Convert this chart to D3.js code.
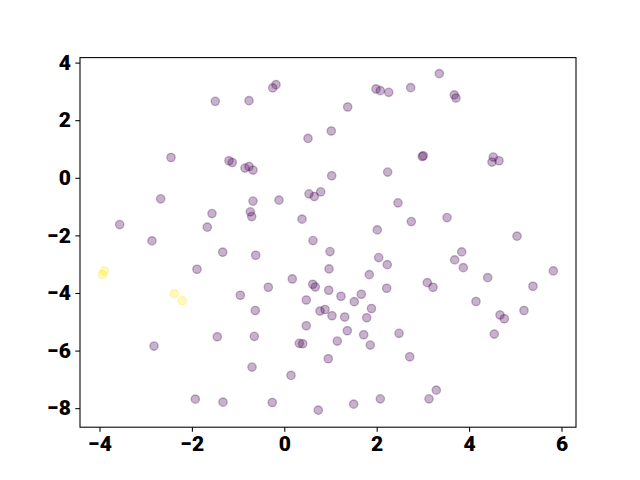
<!DOCTYPE html>
<html>
<head>
<meta charset="utf-8">
<script src="https://cdn.jsdelivr.net/npm/d3@7"></script>
<style>
  html, body { margin: 0; padding: 0; background: #fff; }
  svg { display: block; }
  .tick text { font-family: Roboto, "Liberation Sans", sans-serif; font-weight: 900; font-size: 21px; fill: #000; }
</style>
</head>
<body>
<div id="chart"></div>
<script>
// Cluster 0 (purple) points
const purpleX = [-1.494,-0.764,-2.452,-1.197,-1.126,-0.851,-0.764,-0.677,-0.251,-0.180,
  1.985,2.078,2.260,2.736,1.372,1.017,0.513,1.026,2.238,3.355,
  3.680,3.716,2.987,3.009,4.524,4.496,4.647,-2.675,-3.563,-2.864,
  -1.565,-1.667,-1.333,-1.890,-0.952,-0.677,-0.736,-0.706,-0.115,0.535,
  0.649,0.788,0.383,2.461,2.749,2.013,0.621,0.989,-0.619,2.043,
  2.229,0.968,1.840,0.173,-0.346,0.615,0.671,0.961,2.216,1.227,
  1.667,0.476,1.515,1.887,-0.628,0.773,0.881,3.522,5.037,3.840,
  3.688,3.874,4.403,5.823,3.095,3.219,5.383,4.149,5.188,-1.450,
  -2.820,-1.926,-1.327,1.032,1.307,1.784,0.476,-0.649,0.325,0.398,
  1.364,1.147,1.719,1.861,2.483,0.952,2.714,-0.699,0.145,-0.260,
  0.736,1.502,2.078,4.669,4.762,4.545,3.290,3.132];
const purpleY = [2.654,2.678,0.706,0.591,0.532,0.337,0.393,0.268,3.120,3.235,
  3.085,3.026,2.967,3.130,2.459,1.624,1.367,0.070,0.198,3.617,
  2.877,2.772,0.741,0.765,0.720,0.546,0.591,-0.730,-1.624,-2.191,
  -1.242,-1.715,-2.584,-3.176,-4.080,-0.810,-1.183,-1.346,-0.776,-0.557,
  -0.650,-0.487,-1.437,-0.870,-1.520,-1.809,-2.181,-2.563,-2.689,-2.772,
  -3.016,-3.165,-3.363,-3.513,-3.802,-3.697,-3.791,-3.906,-3.837,-4.115,
  -4.045,-4.243,-4.303,-4.539,-4.609,-4.626,-4.574,-1.381,-2.028,-2.574,
  -2.852,-3.120,-3.468,-3.235,-3.642,-3.802,-3.767,-4.296,-4.609,-5.520,
  -5.843,-7.687,-7.791,-4.790,-4.835,-4.859,-5.137,-5.506,-5.750,-5.763,
  -5.311,-5.670,-5.450,-5.809,-5.402,-6.285,-6.216,-6.574,-6.863,-7.802,
  -8.070,-7.861,-7.677,-4.765,-4.894,-5.426,-7.374,-7.677];
// Cluster 1 (yellow) points
const yellowX = [-3.896,-3.939,-2.381,-2.208];
const yellowY = [-3.235,-3.363,-4.024,-4.268];

const xTicks = [-4,-2,0,2,4,6];
const yTicks = [-8,-6,-4,-2,0,2,4];

const W = 640, H = 480;
const mLeft = 80, mRight = 576, mTop = 57.6, mBottom = 427.2;

const svg = d3.select("#chart").append("svg").attr("width", W).attr("height", H);

const x = d3.scaleLinear().domain([-4.422, 6.314]).range([mLeft, mRight]);
const y = d3.scaleLinear().domain([-8.661, 4.174]).range([mBottom, mTop]);

const points = [];
purpleX.forEach((v, i) => points.push({x: v, y: purpleY[i], c: "#440154"}));
yellowX.forEach((v, i) => points.push({x: v, y: yellowY[i], c: "#fde725"}));

svg.append("g").selectAll("circle").data(points).join("circle")
  .attr("cx", d => x(d.x)).attr("cy", d => y(d.y)).attr("r", 4.17)
  .attr("fill", d => d.c).attr("fill-opacity", 0.3)
  .attr("stroke", d => d.c).attr("stroke-opacity", 0.3).attr("stroke-width", 1.33);

const fmt = d => d < 0 ? "\u2212" + Math.abs(d) : String(d);

const xAxis = svg.append("g").attr("transform", `translate(0,${mBottom})`)
  .call(d3.axisBottom(x).tickValues(xTicks).tickFormat(fmt).tickSize(4.67).tickPadding(4.2));
const yAxis = svg.append("g").attr("transform", `translate(${mLeft},0)`)
  .call(d3.axisLeft(y).tickValues(yTicks).tickFormat(fmt).tickSize(4.67).tickPadding(4.5));
[xAxis, yAxis].forEach(g => {
  g.select(".domain").remove();
  g.selectAll(".tick line").attr("stroke", "#000").attr("stroke-width", 1.07);
});

svg.append("rect").attr("x", mLeft).attr("y", mTop)
  .attr("width", mRight - mLeft).attr("height", mBottom - mTop)
  .attr("fill", "none").attr("stroke", "#000").attr("stroke-width", 1.07);
</script>
</body>
</html>
